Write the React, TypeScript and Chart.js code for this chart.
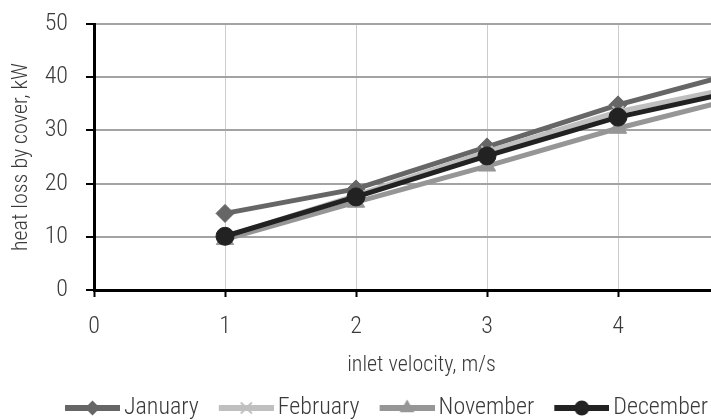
import React, { useEffect, useRef } from "react";
import { Chart, registerables } from "chart.js";

Chart.register(...registerables);

// ---- data ----
const velocities = [1, 2, 3, 4, 5];
const january = [14.4, 19.0, 26.9, 34.8, 41.4];
const february = [10.0, 17.8, 26.0, 33.5, 38.6];
const november = [9.5, 16.5, 23.3, 30.4, 36.6];
const december = [10.1, 17.5, 25.2, 32.5, 37.9];
const seriesNames = ["January", "February", "November", "December"];
const xTitle = "inlet velocity, m/s";
const yTitle = "heat loss by cover, kW";

const FONT = "'Roboto Condensed', 'Liberation Sans Narrow', 'DejaVu Sans Condensed', Roboto, sans-serif";
const TEXT = "#3a3a3a";

const styles = [
  { color: "#666666", point: "rectRot", radius: 9, pbw: 1 },
  { color: "#bfbfbf", point: "crossRot", radius: 8, pbw: 2 },
  { color: "#969696", point: "triangle", radius: 10, pbw: 1 },
  { color: "#222222", point: "circle", radius: 9, pbw: 1 },
];

function legendImage(color: string, point: string): HTMLCanvasElement {
  const c = document.createElement("canvas");
  c.width = 81;
  c.height = 24;
  const ctx = c.getContext("2d")!;
  const cy = 12;
  ctx.strokeStyle = color;
  ctx.fillStyle = color;
  ctx.lineWidth = 6;
  ctx.beginPath();
  ctx.moveTo(26, cy);
  ctx.lineTo(81, cy);
  ctx.stroke();
  const cx = 53.5;
  const r = 7.5;
  ctx.beginPath();
  if (point === "rectRot") {
    ctx.moveTo(cx - r, cy);
    ctx.lineTo(cx, cy - r);
    ctx.lineTo(cx + r, cy);
    ctx.lineTo(cx, cy + r);
    ctx.closePath();
    ctx.fill();
  } else if (point === "crossRot") {
    ctx.lineWidth = 2;
    const d = 5.5;
    ctx.moveTo(cx - d, cy - d);
    ctx.lineTo(cx + d, cy + d);
    ctx.moveTo(cx + d, cy - d);
    ctx.lineTo(cx - d, cy + d);
    ctx.stroke();
  } else if (point === "triangle") {
    const rr = 8.5;
    ctx.moveTo(cx, cy - rr);
    ctx.lineTo(cx + rr * 0.866, cy + rr * 0.5);
    ctx.lineTo(cx - rr * 0.866, cy + rr * 0.5);
    ctx.closePath();
    ctx.fill();
  } else {
    ctx.arc(cx, cy, r, 0, Math.PI * 2);
    ctx.fill();
  }
  return c;
}

export default function App() {
  const ref = useRef<HTMLCanvasElement | null>(null);

  useEffect(() => {
    document.body.style.margin = "0";
    const canvas = ref.current;
    if (!canvas) return;
    const seriesValues = [january, february, november, december];
    const images = styles.map((s) => legendImage(s.color, s.point));

    const datasets = seriesNames.map((name, i) => ({
      label: name,
      data: velocities.map((v, j) => ({ x: v, y: seriesValues[i][j] })),
      borderColor: styles[i].color,
      backgroundColor: styles[i].color,
      borderWidth: 5,
      pointStyle: styles[i].point as any,
      pointRadius: styles[i].radius,
      pointBorderWidth: styles[i].pbw,
      pointBorderColor: styles[i].color,
      pointBackgroundColor: styles[i].color,
      order: seriesNames.length - i,
      tension: 0,
    }));

    const chart = new Chart(canvas, {
      type: "line",
      data: { datasets },
      options: {
        responsive: false,
        animation: false,
        events: [],
        layout: { autoPadding: false, padding: { top: 24, left: 0, right: 0, bottom: 0 } },
        plugins: {
          tooltip: { enabled: false },
          legend: {
            position: "bottom",
            align: "center",
            labels: {
              usePointStyle: true,
              pointStyleWidth: 65,
              padding: 2,
              color: TEXT,
              font: { family: FONT, size: 24, weight: "300" as any },
              generateLabels: () =>
                seriesNames.map((name, i) => ({
                  text: name,
                  fillStyle: styles[i].color,
                  strokeStyle: styles[i].color,
                  lineWidth: 0,
                  pointStyle: images[i] as any,
                  hidden: false,
                  datasetIndex: i,
                  fontColor: TEXT,
                })),
            },
          },
        },
        scales: {
          x: {
            type: "linear",
            min: 0,
            max: 5,
            afterFit: (s: any) => {
              s.height = 104;
              s.paddingLeft = 0;
              s.paddingRight = 6;
            },
            ticks: {
              stepSize: 1,
              color: TEXT,
              padding: 16,
              font: { family: FONT, size: 24, weight: "300" as any },
            },
            grid: {
              color: "#cccccc",
              lineWidth: 1,
              tickColor: "#000000",
              tickLength: 7,
              tickWidth: 2,
            },
            border: { color: "#000000", width: 3 },
            title: {
              display: true,
              text: xTitle,
              color: TEXT,
              padding: { top: 0, bottom: 15 },
              font: { family: FONT, size: 22, weight: "300" as any },
            },
          },
          y: {
            type: "linear",
            min: 0,
            max: 50,
            afterFit: (s: any) => {
              s.width = 94;
              s.paddingTop = 10;
              s.paddingBottom = 10;
            },
            ticks: {
              stepSize: 10,
              color: TEXT,
              padding: 18,
              font: { family: FONT, size: 24, weight: "300" as any },
            },
            grid: {
              color: "#a3a3a3",
              lineWidth: 2,
              tickColor: "#000000",
              tickLength: 8,
              tickWidth: 2,
            },
            border: { color: "#000000", width: 3 },
            title: {
              display: true,
              text: yTitle,
              color: TEXT,
              padding: { top: 8, bottom: 0 },
              font: { family: FONT, size: 22, weight: "300" as any },
            },
          },
        },
      },
    });
    return () => chart.destroy();
  }, []);

  return (
    <div style={{ width: 711, height: 420, overflow: "hidden" }}>
      <canvas ref={ref} width={755} height={430} style={{ display: "block" }} />
    </div>
  );
}
